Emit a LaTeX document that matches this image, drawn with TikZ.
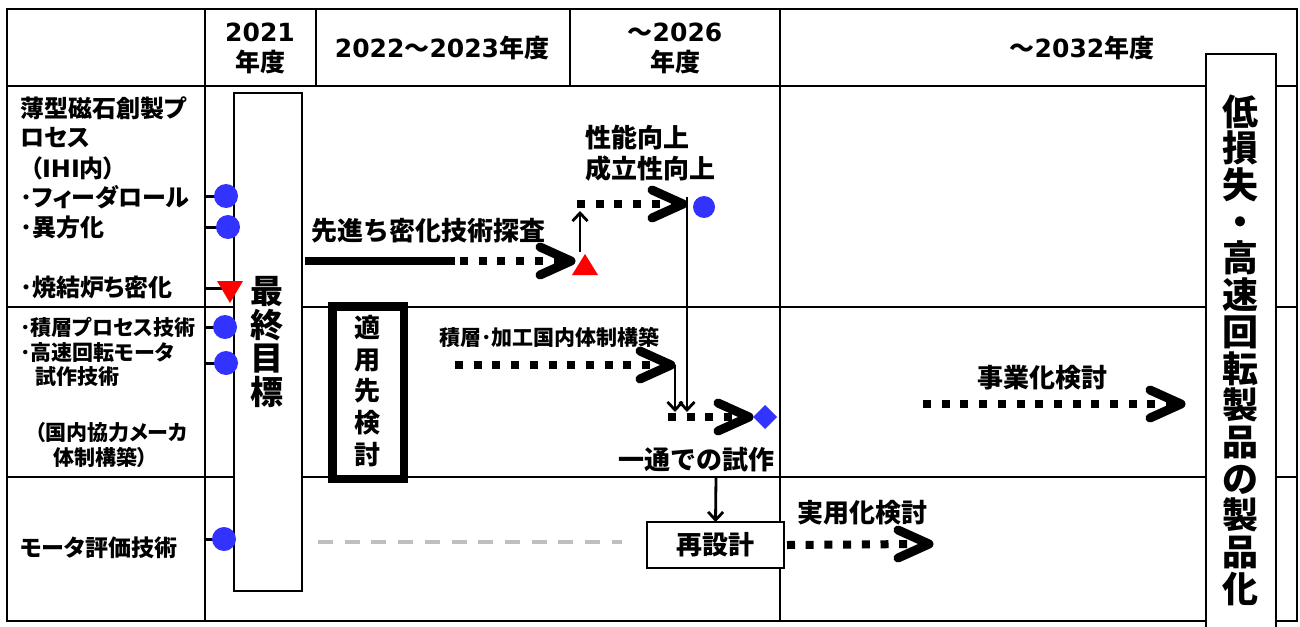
\documentclass[tikz,border=0pt]{standalone}
\usepackage{fontspec}
\setmainfont{Noto Sans CJK JP}
\newfontfamily\jpp{Noto Sans CJK JP}[RawFeature=+palt]
\newfontfamily\lat{DejaVu Sans}
\usetikzlibrary{arrows.meta}
\definecolor{markblue}{RGB}{51,51,255}
\definecolor{dashgray}{RGB}{191,191,191}
\begin{document}
\begin{tikzpicture}[x=1pt,y=-1pt,
  every node/.style={inner sep=0pt, outer sep=0pt},
  grid/.style={line width=2pt},
  chev/.style={line width=9pt, line cap=round, line join=round},
  dots/.style={line width=8pt, dash pattern=on 8pt off 10.7pt},
  solidbar/.style={line width=8.5pt},
  thinarrow/.style={line width=2.8pt, -{Straight Barb[length=8pt,width=15pt]}},
  bluedot/.style={circle, fill=markblue, minimum size=24pt},
  tickline/.style={line width=3pt},
  hd/.style={font=\bfseries\fontsize{25}{30}\selectfont, align=center},
  lbl/.style={font=\bfseries\fontsize{26}{30}\selectfont},
  lft/.style={font=\jpp\bfseries\fontsize{24}{30}\selectfont, anchor=west},
  lfs/.style={font=\jpp\bfseries\fontsize{21}{25}\selectfont, anchor=west},
  whitebox/.style={draw, fill=white, line width=1.5pt},
  ]
\useasboundingbox (0,0) rectangle (1300,626);
\fill[white] (0,0) rectangle (1300,626);

% table grid
\draw[grid] (7,9) rectangle (1297,621);
\draw[grid] (7,86) -- (1297,86);
\draw[grid] (7,307) -- (1297,307);
\draw[grid] (7,477) -- (1297,477);
\draw[grid] (205,9) -- (205,621);
\draw[grid] (780,9) -- (780,621);
\draw[grid] (316,9) -- (316,86);
\draw[grid] (570,9) -- (570,86);

% header texts
\node[hd] (h2021) at (260,48) {{\lat 2021}\\年度};
\node[hd] (h2022) at (442,48) {{\lat 2022}～{\lat 2023}年度};
\node[hd] (h2026) at (675,48) {～{\lat 2026}\\年度};
\node[hd] (h2032) at (1082,48) {～{\lat 2032}年度};

% left column texts
\node[lft] (l1) at (20,108) {薄型磁石創製プ};
\node[lft] (l2) at (20,138) {ロセス};
\node[lft] (l3) at (30,168) {（{\lat IHI}内）};
\node[lft] (l4) at (20,197) {･フィーダロール};
\node[lft] (l5) at (20,227) {･異方化};
\node[lft] (l6) at (20,287) {･焼結炉ち密化};
\node[lfs] (m1) at (20,327) {･積層プロセス技術};
\node[lfs] (m2) at (20,353) {･高速回転モータ};
\node[lfs] (m3) at (35,377) {試作技術};
\node[lfs] (m4) at (35,433) {（国内協力メーカ};
\node[lfs] (m5) at (53,457) {体制構築）};
\node[font=\jpp\bfseries\fontsize{23}{28}\selectfont, anchor=west] (b1) at (20,548) {モータ評価技術};

% ticks to markers
\draw[tickline] (205,196) -- (226,196);
\draw[tickline] (205,227) -- (228,227);
\draw[tickline] (205,288) -- (230,288);
\draw[tickline] (205,327) -- (225,327);
\draw[tickline] (205,363) -- (226,363);
\draw[tickline] (205,539) -- (224,539);

% final goal box
\node[whitebox, minimum width=68pt, minimum height=498pt] (goal) at (268,342) {};
\node[font=\bfseries\fontsize{33}{33.7}\selectfont, align=center] (goaltxt) at (267,342) {最\\終\\目\\標};

% markers on left
\node[bluedot] (c1) at (226,196) {};
\node[bluedot] (c2) at (228,227) {};
\fill[red] (217,281) -- (243,281) -- (230,303) -- cycle;
\node[bluedot] (c3) at (225,327) {};
\node[bluedot] (c4) at (226,363) {};
\node[bluedot] (c5) at (224,539) {};

% application box
\node[draw, line width=8.5pt, minimum width=71.5pt, minimum height=172.5pt] (apply) at (368,392.5) {};
\node[font=\bfseries\fontsize{26}{31.7}\selectfont, align=center] (applytxt) at (367,391) {適\\用\\先\\検\\討};

% right product box
\node[whitebox, minimum width=70pt, minimum height=590pt] (prod) at (1241,349) {};
\node[font=\bfseries\fontsize{36}{36.7}\selectfont, align=center] (prodtxt) at (1240,350)
  {低\\損\\失\\・\\高\\速\\回\\転\\製\\品\\の\\製\\品\\化};

% ---- row 1 flow
\node[lbl] (t1) at (428,231) {先進ち密化技術探査};
\coordinate (s1a) at (305,261);
\coordinate (s1b) at (455,261);
\coordinate (s1c) at (560,261);
\coordinate (v1) at (571,261);
\draw[solidbar] (s1a) -- (s1b);
\draw[dots] ([xshift=5pt]s1b) -- (s1c);
\draw[chev] (v1) ++(-31,-14) -- (v1) -- ++(-31,14);
\fill[red] (572,275) -- (598,275) -- (585,254) -- cycle;
\coordinate (up0) at (580,252);
\coordinate (up1) at (580,211);
\draw[thinarrow] (up0) -- (up1);

\node[lbl, anchor=west] (t2) at (585,138) {性能向上};
\node[lbl, anchor=west] (t3) at (585,169) {成立性向上};
\coordinate (d2a) at (577,204);
\coordinate (d2b) at (672,204);
\coordinate (v2) at (683,204);
\draw[dots] (d2a) -- (d2b);
\draw[chev] (v2) ++(-31,-14) -- (v2) -- ++(-31,14);
\node[bluedot, minimum size=22pt] (c6) at (704,207) {};
\coordinate (vl0) at (687,197);
\coordinate (vl1) at (687,412);
\draw[thinarrow] (vl0) -- (vl1);

% ---- row 2 flow
\node[font=\bfseries\fontsize{21}{25}\selectfont, anchor=west] (t4) at (439,337) {積層･加工国内体制構築};
\coordinate (d3a) at (455,365);
\coordinate (d3b) at (660,365);
\coordinate (v3) at (671,365);
\draw[dots] (d3a) -- (d3b);
\draw[chev] (v3) ++(-31,-14) -- (v3) -- ++(-31,14);
\coordinate (vm0) at (675,365);
\coordinate (vm1) at (675,412);
\draw[thinarrow] (vm0) -- (vm1);

\coordinate (d4a) at (668,417);
\coordinate (d4b) at (740,417);
\coordinate (v4) at (749,417);
\draw[dots] (d4a) -- (d4b);
\draw[chev] (v4) ++(-31,-14) -- (v4) -- ++(-31,14);
\fill[markblue] (753,417) -- (765,405) -- (777,417) -- (765,429) -- cycle;
\node[lbl] (t5) at (696,460) {一通での試作};

\node[lbl] (t6) at (1042,378) {事業化検討};
\coordinate (d5a) at (923,404);
\coordinate (d5b) at (1170,404);
\coordinate (v5) at (1181,404);
\draw[dots] (d5a) -- (d5b);
\draw[chev] (v5) ++(-31,-14) -- (v5) -- ++(-31,14);

% ---- row 3 flow
\draw[line width=4pt, dashgray, dash pattern=on 15pt off 11.7pt] (318,542) -- (622,542);
\node[whitebox, minimum width=137pt, minimum height=46pt, font=\bfseries\fontsize{26}{30}\selectfont] (redesign) at (715.5,545) {再設計};
\coordinate (rd0) at (716,477);
\draw[thinarrow] (rd0) -- (redesign.north);
\node[lbl] (t7) at (862,513) {実用化検討};
\coordinate (d6b) at (918,544);
\coordinate (v6) at (929,544);
\draw[dots] ([xshift=3pt]redesign.east) -- (d6b);
\draw[chev] (v6) ++(-31,-14) -- (v6) -- ++(-31,14);
\end{tikzpicture}
\end{document}
